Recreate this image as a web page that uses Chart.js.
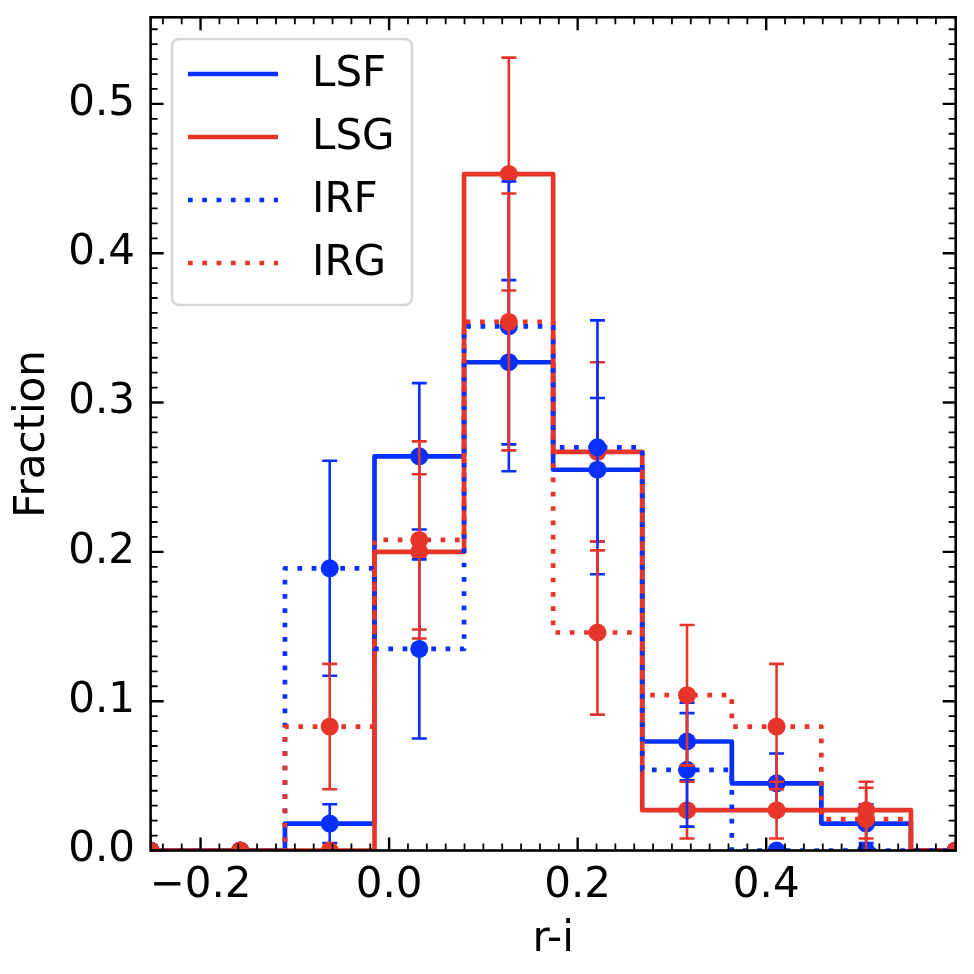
<!DOCTYPE html>
<html>
<head>
<meta charset="utf-8">
<script src="https://cdn.jsdelivr.net/npm/chart.js@4.4.1/dist/chart.umd.min.js"></script>
<style>
  html, body { margin: 0; padding: 0; background: #fff; }
  canvas { display: block; }
</style>
</head>
<body>
<canvas id="chart" width="974" height="974"></canvas>
<script>
// bin centres (r-i) and fractions
const binCenters = [-0.253, -0.158, -0.063, 0.032, 0.127, 0.221, 0.316, 0.411, 0.506, 0.601];
const xTicks = [-0.2, 0.0, 0.2, 0.4];
const yTicks = [0.0, 0.1, 0.2, 0.3, 0.4, 0.5];

const lsfFrac = [0, 0, 0.018, 0.264, 0.327, 0.255, 0.073, 0.045, 0.018, 0];
const lsfErr  = [0, 0, 0.013, 0.049, 0.055, 0.048, 0.026, 0.020, 0.013, 0];
const lsgFrac = [0, 0, 0, 0.200, 0.453, 0.267, 0.027, 0.027, 0.027, 0];
const lsgErr  = [0, 0, 0, 0.052, 0.078, 0.060, 0.019, 0.019, 0.019, 0];
const irfFrac = [0, 0, 0.189, 0.135, 0.351, 0.270, 0.054, 0, 0, 0];
const irfErr  = [0, 0, 0.072, 0.060, 0.097, 0.085, 0.038, 0, 0, 0];
const irgFrac = [0, 0, 0.083, 0.208, 0.354, 0.146, 0.104, 0.083, 0.021, 0];
const irgErr  = [0, 0, 0.042, 0.066, 0.086, 0.055, 0.047, 0.042, 0.021, 0];

const BLUE = '#0530ff';
const RED = '#e8352a';
const DOTS = [4.7, 9.6];
const FONT = '"DejaVu Sans", sans-serif';

const series = [
  { label: 'LSF', values: lsfFrac, errors: lsfErr, color: BLUE, dash: [] },
  { label: 'LSG', values: lsgFrac, errors: lsgErr, color: RED, dash: [] },
  { label: 'IRF', values: irfFrac, errors: irfErr, color: BLUE, dash: DOTS },
  { label: 'IRG', values: irgFrac, errors: irgErr, color: RED, dash: DOTS },
];

const toPoints = (vals) => vals.map((v, i) => ({ x: binCenters[i], y: v }));

// matplotlib draws step, then errorbar, series by series -> later = on top
const datasets = [];
let drawIdx = 0;
series.forEach((s) => {
  datasets.push({
    type: 'line',
    label: s.label,
    data: toPoints(s.values),
    stepped: 'middle',
    borderColor: s.color,
    borderWidth: 4.7,
    borderDash: s.dash,
    borderJoinStyle: 'round',
    borderCapStyle: s.dash.length ? 'butt' : 'square',
    pointRadius: 0,
    fill: false,
    clip: 0,
    order: 20 - drawIdx++,
  });
  datasets.push({
    type: 'scatter',
    label: s.label + ' err',
    data: toPoints(s.values),
    errors: s.errors,
    showLine: false,
    pointRadius: 9,
    pointBackgroundColor: s.color,
    pointBorderWidth: 0,
    clip: 0,
    order: 20 - drawIdx++,
  });
});

const errorBars = {
  id: 'errorBars',
  beforeDatasetDraw(chart, args) {
    const ds = chart.data.datasets[args.index];
    if (!ds.errors) return;
    const { ctx, chartArea, scales } = chart;
    ctx.save();
    ctx.beginPath();
    ctx.rect(chartArea.left, chartArea.top, chartArea.right - chartArea.left, chartArea.bottom - chartArea.top);
    ctx.clip();
    ctx.strokeStyle = ds.pointBackgroundColor;
    ctx.lineWidth = 2.6;
    ctx.setLineDash([]);
    ds.data.forEach((p, i) => {
      const e = ds.errors[i];
      const x = scales.x.getPixelForValue(p.x);
      const y1 = scales.y.getPixelForValue(p.y + e);
      const y0 = scales.y.getPixelForValue(p.y - e);
      ctx.beginPath();
      ctx.moveTo(x, y0); ctx.lineTo(x, y1);
      ctx.moveTo(x - 7.5, y0); ctx.lineTo(x + 7.5, y0);
      ctx.moveTo(x - 7.5, y1); ctx.lineTo(x + 7.5, y1);
      ctx.stroke();
    });
    ctx.restore();
  }
};

const frameAndLegend = {
  id: 'frameAndLegend',
  afterDatasetsDraw(chart) {
    const { ctx, chartArea: a, scales } = chart;
    const xs = scales.x, ys = scales.y;
    ctx.save();
    ctx.strokeStyle = '#000';
    ctx.setLineDash([]);
    // minor + major ticks, inward on all four sides
    const tickX = (v, len, w) => {
      const px = xs.getPixelForValue(v);
      ctx.lineWidth = w;
      ctx.beginPath();
      ctx.moveTo(px, a.bottom); ctx.lineTo(px, a.bottom - len);
      ctx.moveTo(px, a.top); ctx.lineTo(px, a.top + len);
      ctx.stroke();
    };
    const tickY = (v, len, w) => {
      const py = ys.getPixelForValue(v);
      ctx.lineWidth = w;
      ctx.beginPath();
      ctx.moveTo(a.left, py); ctx.lineTo(a.left + len, py);
      ctx.moveTo(a.right, py); ctx.lineTo(a.right - len, py);
      ctx.stroke();
    };
    for (let i = Math.ceil(xs.min / 0.02); i <= Math.floor(xs.max / 0.02); i++) {
      if (i % 10 !== 0) tickX(i * 0.02, 7, 1.8);
    }
    for (let i = Math.ceil(ys.min / 0.01); i <= Math.floor(ys.max / 0.01); i++) {
      if (i % 10 !== 0) tickY(i * 0.01, 7, 1.8);
    }
    xTicks.forEach((v) => tickX(v, 13, 2.4));
    yTicks.forEach((v) => tickY(v, 13, 2.4));
    ctx.lineWidth = 2.6;
    ctx.strokeRect(a.left, a.top, a.right - a.left, a.bottom - a.top);

    // legend box in upper left
    const bx = 172, by = 39, bw = 240, bh = 266, r = 7;
    ctx.beginPath();
    ctx.moveTo(bx + r, by);
    ctx.arcTo(bx + bw, by, bx + bw, by + bh, r);
    ctx.arcTo(bx + bw, by + bh, bx, by + bh, r);
    ctx.arcTo(bx, by + bh, bx, by, r);
    ctx.arcTo(bx, by, bx + bw, by, r);
    ctx.closePath();
    ctx.fillStyle = 'rgba(255,255,255,0.8)';
    ctx.fill();
    ctx.strokeStyle = '#d6d6d6';
    ctx.lineWidth = 2.5;
    ctx.stroke();

    ctx.font = '42px ' + FONT;
    ctx.textBaseline = 'middle';
    ctx.textAlign = 'left';
    series.forEach((s, i) => {
      const y = 74 + i * 63;
      ctx.strokeStyle = s.color;
      ctx.lineWidth = 4.7;
      ctx.setLineDash(s.dash);
      ctx.lineCap = 'butt';
      ctx.beginPath();
      ctx.moveTo(188, y); ctx.lineTo(278, y);
      ctx.stroke();
      ctx.setLineDash([]);
      ctx.fillStyle = '#000';
      ctx.fillText(s.label, 312, y + 1);
    });
    ctx.restore();
  }
};

Chart.defaults.font.family = FONT;
Chart.defaults.color = '#000';

new Chart(document.getElementById('chart'), {
  data: { datasets },
  options: {
    responsive: false,
    animation: false,
    events: [],
    layout: { padding: { left: 0, right: 18.3, top: 17.3, bottom: 0 } },
    plugins: { legend: { display: false }, tooltip: { enabled: false } },
    scales: {
      x: {
        type: 'linear',
        min: binCenters[0],
        max: binCenters[binCenters.length - 1],
        grid: { display: false, drawTicks: false },
        border: { display: false },
        afterBuildTicks: (scale) => { scale.ticks = xTicks.map((v) => ({ value: v })); },
        afterFit: (scale) => {
          scale.height = 123.5;
          scale.paddingLeft = 0;
          scale.paddingRight = 0;
        },
        ticks: {
          font: { size: 42 },
          padding: 10,
          maxRotation: 0,
          callback: (v) => (v < 0 ? '\u2212' : '') + Math.abs(v).toFixed(1),
        },
        title: { display: true, text: 'r-i', font: { size: 42 }, padding: { top: 0, bottom: 8.8 } },
      },
      y: {
        type: 'linear',
        min: 0,
        max: 0.558,
        grid: { display: false, drawTicks: false },
        border: { display: false },
        afterBuildTicks: (scale) => { scale.ticks = yTicks.map((v) => ({ value: v })); },
        afterFit: (scale) => {
          scale.width = 150.6;
          scale.paddingTop = 0;
          scale.paddingBottom = 0;
        },
        ticks: {
          font: { size: 42 },
          padding: 15.6,
          callback: (v) => v.toFixed(1),
        },
        title: { display: true, text: 'Fraction', font: { size: 42 }, padding: { top: 7.8, bottom: 0 } },
      },
    },
  },
  plugins: [errorBars, frameAndLegend],
});
</script>
</body>
</html>
